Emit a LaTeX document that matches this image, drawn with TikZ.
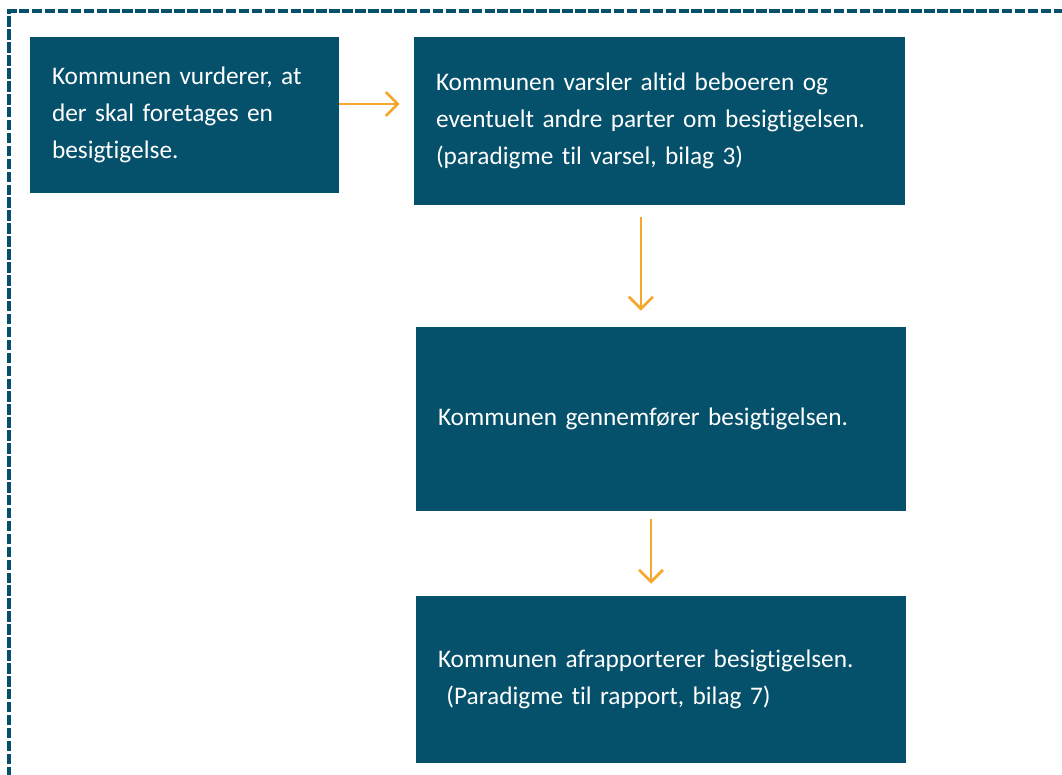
\documentclass[tikz,border=0pt]{standalone}
\usepackage{fontspec}
\setmainfont[RawFeature={-liga}]{Carlito}
\usetikzlibrary{arrows.meta}
\definecolor{boxblue}{HTML}{05506B}
\definecolor{flowgold}{HTML}{F6A82C}

\begin{document}
\begin{tikzpicture}[x=0.75pt,y=-0.75pt,
    stepbox/.style={fill=boxblue,text=white,align=left,inner xsep=16.5pt,inner ysep=0pt,
      font=\fontsize{19}{27.75}\selectfont},
    flow/.style={draw=flowgold,line width=2.1pt,-{Straight Barb[length=9pt,width=18pt]}}]
    \useasboundingbox (0,0) rectangle (1062,774);
    \clip (0,0) rectangle (1062,774);
    % frame
    \draw[boxblue,line width=2.8pt,dash pattern=on 7.9pt off 1.8pt] (9,790)--(9,11)--(1080,11);
    % steps
    \node[stepbox,text width=198.75pt,minimum height=117pt] (vurder) at (184.5,115)
        {Kommunen vurderer, at\\der skal foretages en\\besigtigelse.};
    \node[stepbox,text width=335.25pt,minimum height=126pt] (varsel) at (659.5,121)
        {Kommunen varsler altid beboeren og\\eventuelt andre parter om besigtigelsen.\\(paradigme til varsel, bilag 3)};
    \node[stepbox,text width=334.5pt,minimum height=138pt] (besigt) at (661,419)
        {Kommunen gennemfører besigtigelsen.};
    \node[stepbox,text width=334.5pt,minimum height=125.25pt] (rapport) at (661,679.5)
        {Kommunen afrapporterer besigtigelsen.\\\ (Paradigme til rapport, bilag 7)};
    % arrows
    \draw[flow,shorten >=10.5pt] ([yshift=8.25pt]vurder.east) -- ([yshift=8.25pt]vurder.east -| varsel.west);
    \draw[flow,shorten <=9pt,shorten >=12pt] ([xshift=-13.9pt]varsel.south) -- ([xshift=-13.9pt]varsel.south |- besigt.north);
    \draw[flow,shorten <=6pt,shorten >=9pt] ([xshift=-7.5pt]besigt.south) -- ([xshift=-7.5pt]besigt.south |- rapport.north);
\end{tikzpicture}
\end{document}
